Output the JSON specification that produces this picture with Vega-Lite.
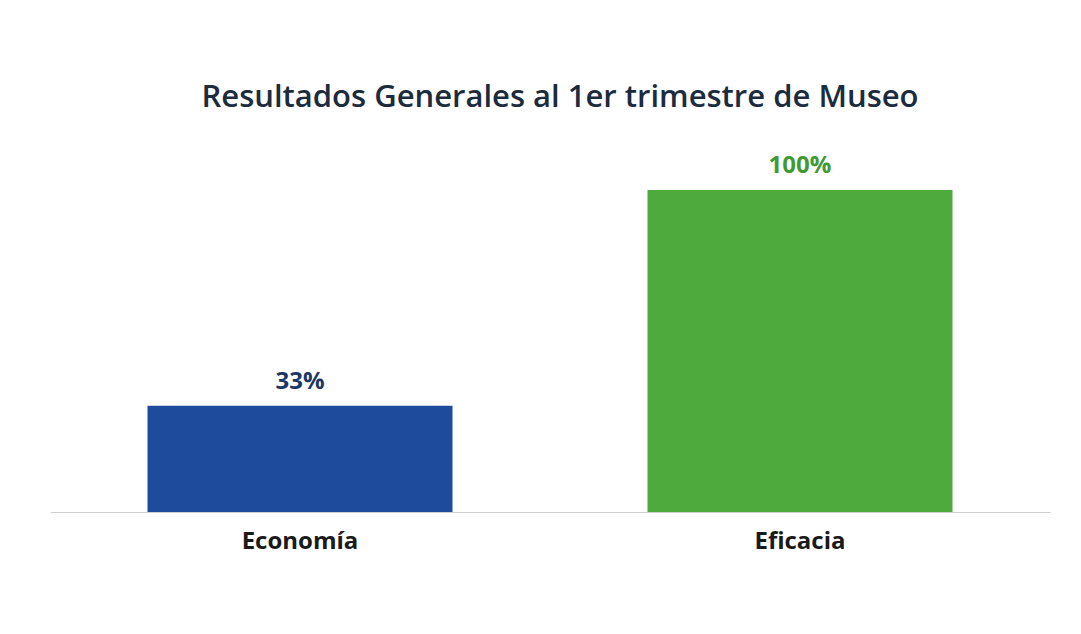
{
  "$schema": "https://vega.github.io/schema/vega-lite/v6.json",
  "autosize": {"type": "none"},
  "width": 1000,
  "height": 322,
  "padding": {"left": 50, "top": 190, "right": 31, "bottom": 122},
  "background": "#ffffff",
  "title": {
    "text": "Resultados Generales al 1er trimestre de Museo",
    "font": "Open Sans",
    "fontSize": 31,
    "fontWeight": 600,
    "color": "#1c2b3e",
    "anchor": "middle",
    "offset": 40,
    "dx": 10
  },
  "data": {
    "values": [
      {"categoria": "Economía", "valor": 0.33, "etiqueta": "33%", "color": "#1e4b9c", "labelColor": "#1b3766"},
      {"categoria": "Eficacia", "valor": 1.0, "etiqueta": "100%", "color": "#4eaa3c", "labelColor": "#3f9a34"}
    ]
  },
  "encoding": {
    "x": {
      "field": "categoria",
      "type": "nominal",
      "sort": null,
      "scale": {"paddingInner": 0.39, "paddingOuter": 0.195},
      "axis": {
        "title": null,
        "labelAngle": 0,
        "labelFont": "Open Sans",
        "labelFontSize": 24,
        "labelFontWeight": "bold",
        "labelColor": "#1a1a1a",
        "labelPadding": 17,
        "ticks": false,
        "domainColor": "#cfcfcf",
        "domainWidth": 1
      }
    },
    "y": {
      "field": "valor",
      "type": "quantitative",
      "scale": {"domain": [0, 1]},
      "axis": null
    }
  },
  "layer": [
    {
      "mark": {"type": "bar"},
      "encoding": {
        "color": {"field": "color", "type": "nominal", "scale": null}
      }
    },
    {
      "mark": {"type": "text", "baseline": "bottom", "dy": -12, "font": "Open Sans", "fontSize": 24, "fontWeight": "bold"},
      "encoding": {
        "text": {"field": "etiqueta"},
        "color": {"field": "labelColor", "type": "nominal", "scale": null}
      }
    }
  ],
  "config": {"view": {"stroke": null}}
}
